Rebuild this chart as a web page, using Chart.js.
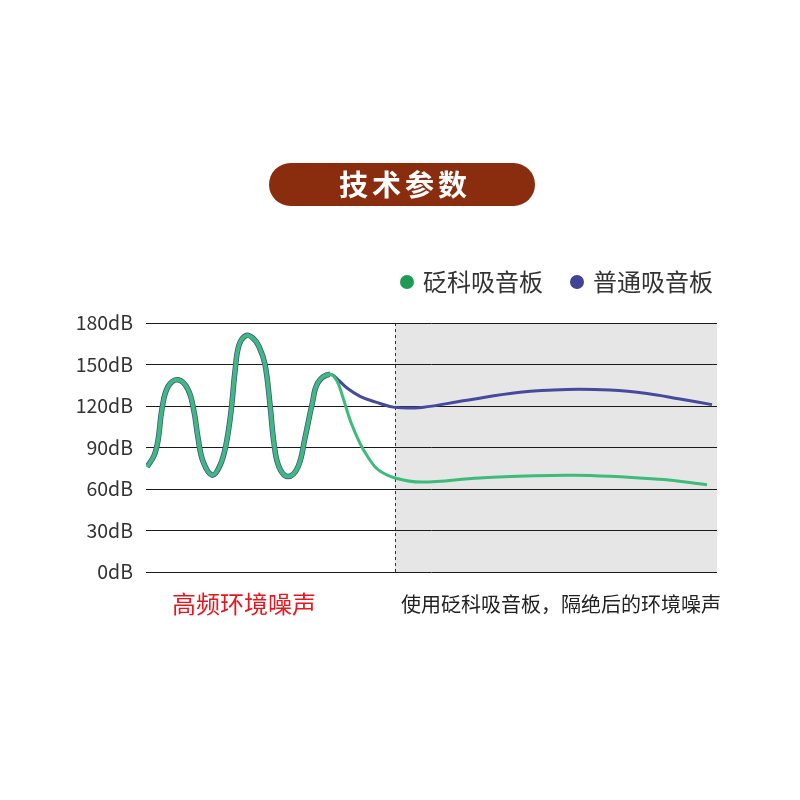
<!DOCTYPE html>
<html><head><meta charset="utf-8">
<script src="https://cdn.jsdelivr.net/npm/chart.js@4/dist/chart.umd.min.js"></script>
<style>html,body{margin:0;padding:0;background:#fff}#wrap{width:800px;height:800px}</style>
</head><body><div id="wrap"><canvas id="c" width="800" height="800"></canvas></div>
<script>
// ---- data ----
const titleText = '技术参数';
const seriesNames = ['砭科吸音板', '普通吸音板'];
const yMin = 0, yMax = 180, yStep = 30;
const tickUnit = 'dB';
const xMax = 571;
const dividerX = 249;
const xGreen = [1,8,12,16,22,32,42,48,52,57,66,74,80,85,89,93,100,107,113,119,124,128,133,142,152,159,166,172,184,191,197,205,214,222,232,249,276,334,427,514,561];
const yGreen = [76,84,95,118,134,139,132,116,97,80,70,77,92,116,145,164,171,169,163,150,121,93,76,69,76,97,121,137,143,138,126,108,93,83,74,68,65,68,70,67,63];
const xBlue = [1,8,12,16,22,32,42,48,52,57,66,74,80,85,89,93,100,107,113,119,124,128,133,142,152,159,166,172,184,192,201,214,229,249,276,319,374,421,464,501,534,566];
const yBlue = [76,84,95,118,134,139,132,116,97,80,70,77,92,116,145,164,171,169,163,150,121,93,76,69,76,97,121,137,143,139,133,127,123,119,119,124,130,132,131.5,129,125,121];
const leftLabel = '高频环境噪声';
const rightLabel = '使用砭科吸音板，隔绝后的环境噪声';

// ---- styles ----
const FONT = '"Noto Sans CJK SC", "Noto Sans", sans-serif';
const greenLine = '#3dbb7b', blueLine = '#464a9c';
const greenDot = '#1f9a55', blueDot = '#3f4496';
const splitX = 184;

const toPts = (xs, ys) => xs.map((x, i) => ({x, y: ys[i]}));

const deco = {
  id: 'deco',
  beforeDraw(chart) {
    const {ctx, chartArea: a, scales: {x}} = chart;
    const dx = x.getPixelForValue(dividerX);
    ctx.save();
    ctx.fillStyle = '#e6e6e6';
    ctx.fillRect(dx, a.top, a.right - dx, a.bottom - a.top);
    ctx.restore();
  },
  beforeDatasetsDraw(chart) {
    const {ctx, chartArea: a, scales: {x}} = chart;
    const dx = Math.round(x.getPixelForValue(dividerX)) + 0.5;
    ctx.save();
    ctx.strokeStyle = '#333';
    ctx.lineWidth = 1;
    ctx.setLineDash([3, 3]);
    ctx.beginPath();
    ctx.moveTo(dx, a.top);
    ctx.lineTo(dx, a.bottom);
    ctx.stroke();
    ctx.restore();
  },
  afterDraw(chart) {
    const {ctx} = chart;
    ctx.save();
    // title pill
    const px = 269, py = 163, pw = 266, ph = 43, r = ph / 2;
    ctx.fillStyle = '#8a2d0f';
    ctx.beginPath();
    ctx.moveTo(px + r, py);
    ctx.lineTo(px + pw - r, py);
    ctx.arc(px + pw - r, py + r, r, -Math.PI / 2, Math.PI / 2);
    ctx.lineTo(px + r, py + ph);
    ctx.arc(px + r, py + r, r, Math.PI / 2, Math.PI * 1.5);
    ctx.closePath();
    ctx.fill();
    ctx.fillStyle = '#ffffff';
    ctx.font = 'bold 29px ' + FONT;
    ctx.textBaseline = 'middle';
    ctx.textAlign = 'center';
    const chars = [...titleText];
    const step = 33;
    const cx = px + pw / 2 + 1;
    chars.forEach((c, i) => {
      ctx.fillText(c, cx + (i - (chars.length - 1) / 2) * step, py + ph / 2);
    });
    // legend
    ctx.textAlign = 'left';
    ctx.font = '24px ' + FONT;
    const legendY = 282;
    [[407, greenDot, seriesNames[0]], [577, blueDot, seriesNames[1]]].forEach(([lx, col, name]) => {
      ctx.fillStyle = col;
      ctx.beginPath();
      ctx.arc(lx, legendY, 7, 0, Math.PI * 2);
      ctx.fill();
      ctx.fillStyle = '#333';
      ctx.fillText(name, lx + 16, legendY);
    });
    // bottom labels
    ctx.font = '24px ' + FONT;
    ctx.fillStyle = '#e8161e';
    ctx.fillText(leftLabel, 172, 604);
    ctx.font = '20px ' + FONT;
    ctx.fillStyle = '#222';
    ctx.fillText(rightLabel, 401, 604);
    ctx.restore();
  }
};

new Chart(document.getElementById('c'), {
  type: 'line',
  data: {
    datasets: [
      {
        label: seriesNames[0],
        data: toPts(xGreen, yGreen),
        borderColor: greenLine,
        borderWidth: 3,
        pointRadius: 0,
        tension: 0.4,
        fill: false,
        segment: {
          borderWidth: c => (c.p0.parsed.x < splitX ? 4 : 3)
        }
      },
      {
        label: seriesNames[1],
        data: toPts(xBlue, yBlue),
        borderColor: blueLine,
        borderWidth: 3,
        pointRadius: 0,
        tension: 0.4,
        fill: false,
        segment: {
          borderWidth: c => (c.p0.parsed.x < splitX ? 5.5 : 3)
        }
      }
    ]
  },
  options: {
    responsive: false,
    animation: false,
    devicePixelRatio: 1,
    layout: {padding: {top: 323, bottom: 228, left: 0, right: 83}},
    plugins: {legend: {display: false}, tooltip: {enabled: false}},
    scales: {
      x: {type: 'linear', min: 0, max: xMax, display: false},
      y: {
        min: yMin, max: yMax,
        ticks: {
          stepSize: yStep,
          padding: 13,
          color: '#333',
          font: {family: FONT, size: 19.5},
          callback: v => v + tickUnit
        },
        grid: {color: '#1a1a1a', lineWidth: 1, drawTicks: false},
        border: {display: false},
        afterFit: s => { s.width = 146; }
      }
    }
  },
  plugins: [deco]
});
</script>
</body></html>
